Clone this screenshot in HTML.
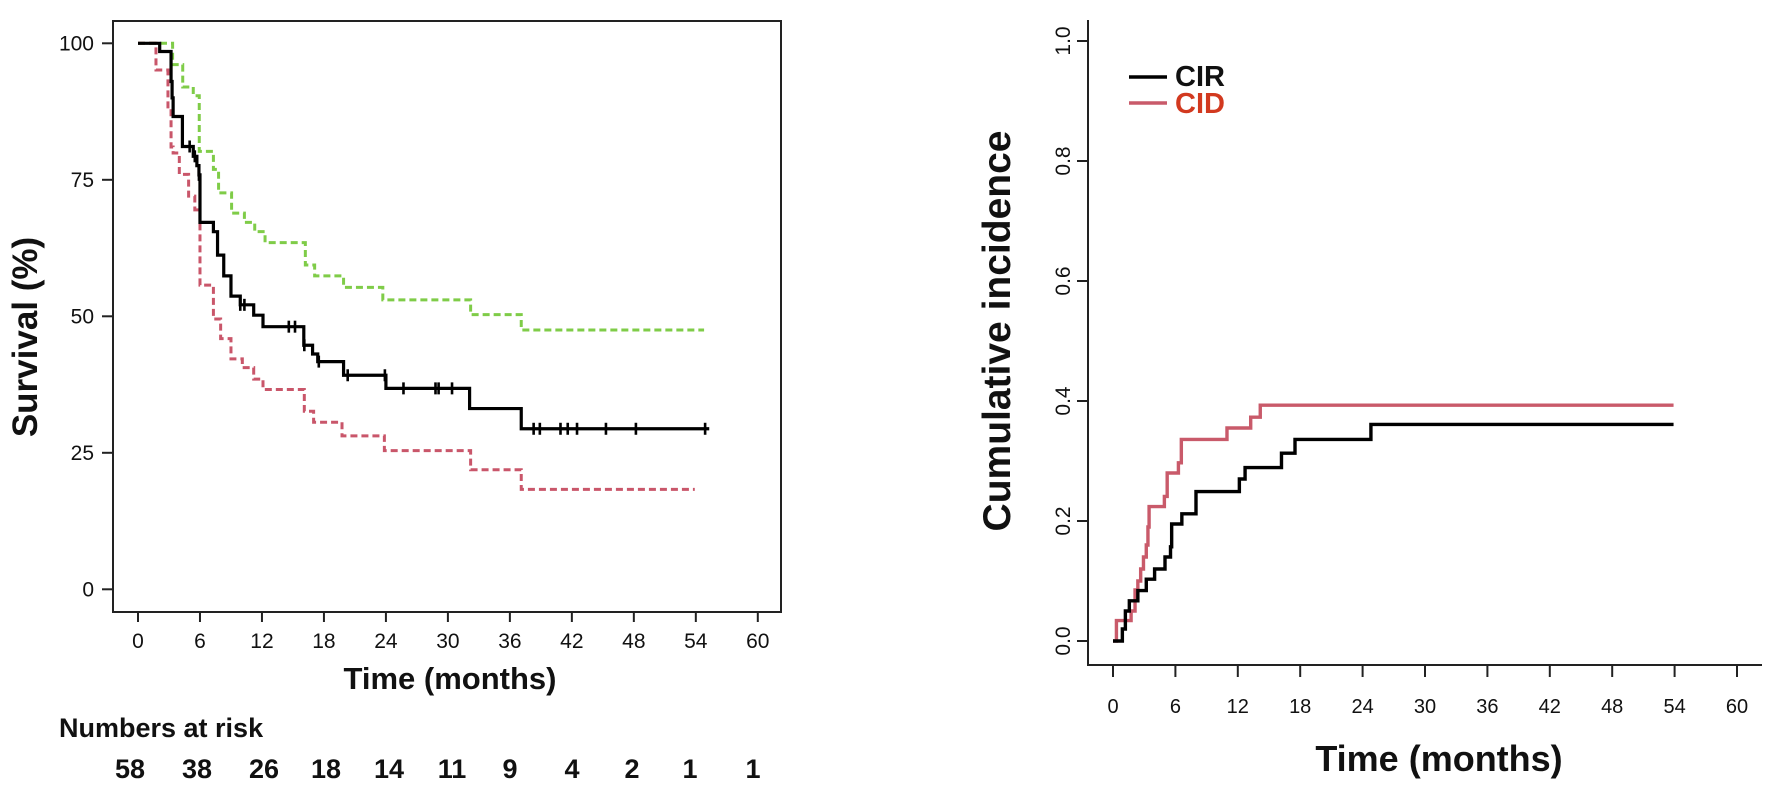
<!DOCTYPE html>
<html><head><meta charset="utf-8"><style>
html,body{margin:0;padding:0;background:#fff;}
svg{display:block;font-family:"Liberation Sans",Arial,sans-serif;}
</style></head><body>
<svg id="chart" width="1778" height="798" viewBox="0 0 1778 798">
<g id="left"></g>
<g id="right"></g>
</svg>
<script>
// ---- Left panel data ----
const xTicksL = [0,6,12,18,24,30,36,42,48,54,60];
const yTicksL = [0,25,50,75,100];
const blackT = [0,2.1,3.2,3.3,3.4,4.3,5.35,5.7,5.9,6.0,7.3,7.7,8.3,9.0,9.9,11.2,12.1,16.05,16.9,17.4,19.9,24.0,32.1,37.1];
const blackV = [100,98.5,93,90,86.6,81.1,79.3,77.6,75.9,67.2,65.5,61.2,57.4,53.7,52.1,50.2,48.1,44.7,43.1,41.7,39.2,36.8,33.1,29.4];
const blackEnd = 55.3;
const censorT = [5.0,5.5,5.9,9.9,10.3,14.6,15.2,16.1,17.5,20.3,23.9,25.7,28.8,29.1,30.4,38.3,38.9,40.9,41.6,42.5,45.3,48.2,54.9];
const greenT = [0,3.35,4.33,5.35,5.93,7.3,7.8,9.06,10.3,11.3,12.3,16.2,17.1,19.9,23.7,32.2,37.1];
const greenV = [100,96.1,92.0,90.4,80.2,76.9,72.6,68.9,67.2,65.5,63.5,59.4,57.4,55.3,53.0,50.3,47.5];
const greenEnd = 54.8;
const redT = [0,1.74,2.9,3.2,3.4,4.0,4.9,5.5,6.0,7.3,8.0,9.0,10.1,11.2,12.1,16.1,17.0,19.75,23.85,32.2,37.1];
const redV = [100,95.1,88,81,79.9,76,72,69.5,55.7,49.5,45.9,42.2,40.6,38.5,36.6,32.6,30.6,28.1,25.4,21.9,18.3];
const redEnd = 53.9;
const riskTimes = [0,6,12,18,24,30,36,42,48,54,60];
const riskCounts = [58,38,26,18,14,11,9,4,2,1,1];
const riskX = [130,197,264,326,389,452,510,572,632,690,753];

// ---- Right panel data ----
const xTicksR = [0,6,12,18,24,30,36,42,48,54,60];
const yTicksR = [0.0,0.2,0.4,0.6,0.8,1.0];
const cirT = [0,0.9,1.19,1.57,2.39,3.2,4.0,5.0,5.53,5.64,6.62,7.98,12.15,12.7,16.2,17.5,24.8];
const cirV = [0,0.02,0.05,0.067,0.084,0.103,0.12,0.14,0.157,0.195,0.212,0.249,0.27,0.289,0.313,0.336,0.361];
const cirEnd = 53.9;
const cidT = [0,0.33,1.74,2.12,2.39,2.66,2.93,3.2,3.36,3.47,4.94,5.21,6.29,6.57,10.96,13.24,14.16];
const cidV = [0,0.034,0.05,0.085,0.10,0.12,0.14,0.16,0.19,0.224,0.241,0.28,0.297,0.336,0.355,0.373,0.393];
const cidEnd = 53.9;

const NS="http://www.w3.org/2000/svg";
function mk(parent,tag,attrs,text){const e=document.createElementNS(NS,tag);for(const k in attrs)e.setAttribute(k,attrs[k]);if(text!==undefined)e.textContent=text;parent.appendChild(e);return e;}
function stepPath(T,V,end,sx,sy){let d="M"+sx(T[0])+","+sy(V[0]);for(let i=1;i<T.length;i++){d+=" H"+sx(T[i])+" V"+sy(V[i]);}d+=" H"+sx(end);return d;}
function valueAt(T,V,t){let v=V[0];for(let i=0;i<T.length;i++){if(T[i]<=t)v=V[i];}return v;}

// Left panel
const L=document.getElementById('left');
const lx=t=>138+t*10.33;
const ly=v=>589.3-v*5.46;
let e;
e=mk(L,'rect',{x:113,y:21,width:668,height:591,fill:'none',stroke:'#222','stroke-width':2});


yTicksL.forEach(v=>{
 e=mk(L,'line',{x1:102,x2:113,y1:ly(v),y2:ly(v),stroke:'#222','stroke-width':2});
 
 
 e=mk(L,'text',{x:94,y:ly(v)+7,'text-anchor':'end','font-size':21,fill:'#111'},String(v));
 
 
});
xTicksL.forEach(t=>{
 e=mk(L,'line',{x1:lx(t),x2:lx(t),y1:612,y2:622,stroke:'#222','stroke-width':2});
 
 
 e=mk(L,'text',{x:lx(t),y:648,'text-anchor':'middle','font-size':21,fill:'#111'},String(t));
 
 
});
e=mk(L,'text',{x:450,y:689,'text-anchor':'middle','font-size':31,'font-weight':'bold',fill:'#111'},'Time (months)');


e=mk(L,'text',{x:0,y:0,transform:'translate(37,337) rotate(-90)','text-anchor':'middle','font-size':35,'font-weight':'bold',fill:'#111'},'Survival (%)');


e=mk(L,'text',{x:59,y:737,'font-size':27,'font-weight':'bold',fill:'#111'},'Numbers at risk');


riskCounts.forEach((n,i)=>{
 e=mk(L,'text',{x:riskX[i],y:778,'text-anchor':'middle','font-size':27,'font-weight':'bold',fill:'#111'},String(n));
 
 
});
e=mk(L,'path',{d:stepPath(greenT,greenV,greenEnd,lx,ly),fill:'none',stroke:'#7fcc48','stroke-width':3,'stroke-dasharray':'7,4'});


e=mk(L,'path',{d:stepPath(redT,redV,redEnd,lx,ly),fill:'none',stroke:'#c9566a','stroke-width':3,'stroke-dasharray':'7,4'});


e=mk(L,'path',{d:stepPath(blackT,blackV,blackEnd,lx,ly),fill:'none',stroke:'#000','stroke-width':3.2});


censorT.forEach(t=>{
 const y=ly(valueAt(blackT,blackV,t));
 e=mk(L,'line',{x1:lx(t),x2:lx(t),y1:y-6,y2:y+6,stroke:'#000','stroke-width':2.6});
 
 
});

// Right panel
const R=document.getElementById('right');
const rx=t=>1113+t*10.4;
const ry=v=>641-v*600;
e=mk(R,'line',{x1:1088,x2:1088,y1:20,y2:665,stroke:'#222','stroke-width':2});


e=mk(R,'line',{x1:1087,x2:1762,y1:665,y2:665,stroke:'#222','stroke-width':2});


yTicksR.forEach(v=>{
 e=mk(R,'line',{x1:1077,x2:1088,y1:ry(v),y2:ry(v),stroke:'#222','stroke-width':2});
 
 
 e=mk(R,'text',{x:0,y:0,transform:'translate(1070,'+ry(v)+') rotate(-90)','text-anchor':'middle','font-size':21,fill:'#111'},v.toFixed(1));
 
 
});
xTicksR.forEach(t=>{
 e=mk(R,'line',{x1:rx(t),x2:rx(t),y1:665,y2:677,stroke:'#222','stroke-width':2});
 
 
 e=mk(R,'text',{x:rx(t),y:713,'text-anchor':'middle','font-size':20,fill:'#111'},String(t));
 
 
});
e=mk(R,'text',{x:1439,y:771,'text-anchor':'middle','font-size':36,'font-weight':'bold',fill:'#111'},'Time (months)');


e=mk(R,'text',{x:0,y:0,transform:'translate(1010,331) rotate(-90)','text-anchor':'middle','font-size':39,'font-weight':'bold',fill:'#111'},'Cumulative incidence');


e=mk(R,'path',{d:stepPath(cidT,cidV,cidEnd,rx,ry),fill:'none',stroke:'#c95a6a','stroke-width':3.4});


e=mk(R,'path',{d:stepPath(cirT,cirV,cirEnd,rx,ry),fill:'none',stroke:'#000','stroke-width':3.4});


e=mk(R,'line',{x1:1129,x2:1167,y1:77,y2:77,stroke:'#000','stroke-width':3.5});


e=mk(R,'text',{x:1175,y:86,'font-size':29,'font-weight':'bold',fill:'#111'},'CIR');


e=mk(R,'line',{x1:1129,x2:1167,y1:103,y2:103,stroke:'#c95a6a','stroke-width':3.5});


e=mk(R,'text',{x:1175,y:113,'font-size':29,'font-weight':'bold',fill:'#d2391f'},'CID');


</script>
</body></html>
